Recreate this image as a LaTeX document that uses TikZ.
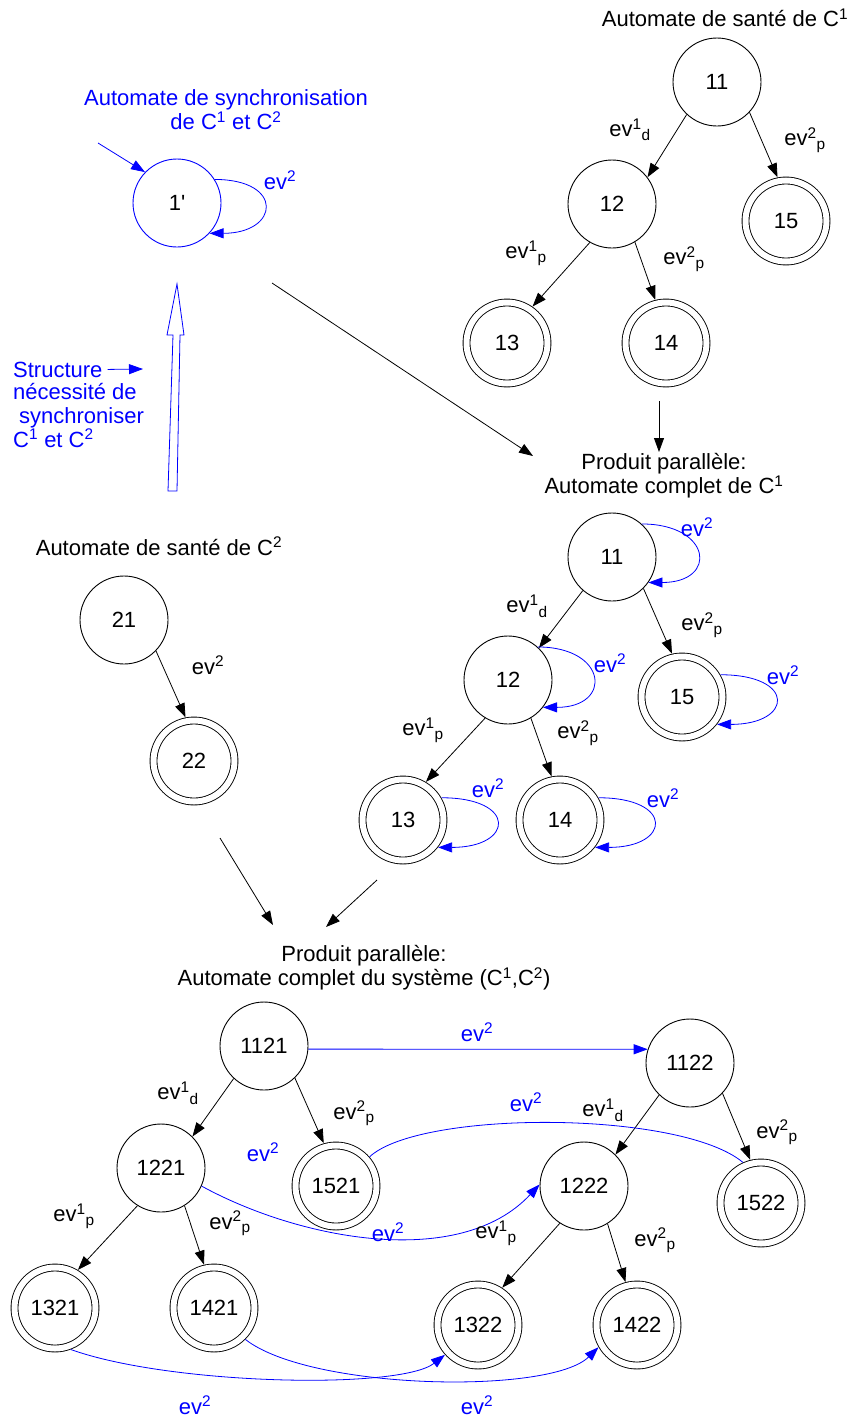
\documentclass[tikz,border=0pt]{standalone}
\usepackage{fontspec}
\setmainfont{Liberation Sans}
\usetikzlibrary{arrows.meta}
\definecolor{synblue}{RGB}{0,0,255}
\tikzset{
  etat/.style={circle,draw,line width=0.9pt,minimum size=88pt,inner sep=0pt},
  etatfin/.style={circle,draw,line width=0.9pt,double,double distance=6pt,minimum size=81pt,inner sep=0pt,outer sep=4pt},
  trans/.style={-{Triangle[length=14pt,width=10pt]},line width=0.8pt},
  transbl/.style={trans,synblue},
  lab/.style={inner sep=0pt},
  labbl/.style={lab,synblue}
}
\newcommand{\evl}[2]{ev\textsuperscript{#1}\textsubscript{#2}}
\newcommand{\evs}{ev\textsuperscript{2}}

\begin{document}
\begin{tikzpicture}[x=1pt,y=-1pt,font=\fontsize{22}{24}\selectfont]
\useasboundingbox (0,0) rectangle (850,1416);

\node[align=center,synblue] (sync) at (226,110) {Automate de synchronisation\\de C\textsuperscript{1} et C\textsuperscript{2}};
\node[etat,draw=synblue] (s1) at (177,203) {1\textquotesingle};
\coordinate (sin) at (98,143);
\draw[transbl] (sin) -- (s1.136);
\draw[transbl] (s1.32) .. controls +(70,0) and +(70,0) .. (s1.-43);
\node[labbl] (ls1) at (280,180) {\evs};
\draw[synblue,fill=white,line width=0.8pt] (168,491) -- (173,335) -- (167,335) -- (177,284)
  -- (184,335) -- (180,335) -- (177,491) -- cycle;
\node[synblue,anchor=base west,inner sep=0pt] (struc) at (13,377) {Structure};
\node[synblue,anchor=north west,align=left,inner sep=0pt] (struc2) at (13,383)
  {nécessité de\\\hspace{6pt}synchroniser\\C\textsuperscript{1} et C\textsuperscript{2}};
\coordinate (strtip) at (143,369);
\draw[transbl] ([xshift=5pt]struc.east) -- (strtip);
\coordinate (la) at (272,283);
\coordinate (lb) at (533,456);
\draw[trans] (la) -- (lb);

\node (titA) at (725,18) {Automate de santé de C\textsuperscript{1}};
\node[etat] (a11) at (717,82) {11};
\node[etat] (a12) at (612,204) {12};
\node[etatfin] (a15) at (786,221) {15};
\node[etatfin] (a13) at (507,343) {13};
\node[etatfin] (a14) at (666,343) {14};
\draw[trans] (a11.227) -- (a12.37);
\draw[trans] (a11.-43) -- (a15.101);
\draw[trans] (a12.-120) -- (a13.55);
\draw[trans] (a12.-59) -- (a14.104);
\node[lab] (la1) at (630,130) {\evl{1}{d}};
\node[lab] (la2) at (805,140) {\evl{2}{p}};
\node[lab] (la3) at (526,253) {\evl{1}{p}};
\node[lab] (la4) at (684,259) {\evl{2}{p}};
\coordinate (pa) at (659,401);
\coordinate (pb) at (659,452);
\draw[trans] (pa) -- (pb);

\node[align=center] (titB) at (664,476) {Produit parallèle:\\Automate complet de C\textsuperscript{1}};
\node[etat] (b11) at (612,557) {11};
\node[etat] (b12) at (508,680) {12};
\node[etatfin] (b15) at (682,697) {15};
\node[etatfin] (b13) at (403,820) {13};
\node[etatfin] (b14) at (560,820) {14};
\draw[trans] (b11.-131) -- (b12.46);
\draw[trans] (b11.-45) -- (b15.103);
\draw[trans] (b12.-121) -- (b13.59);
\draw[trans] (b12.-59) -- (b14.101);
\foreach \n/\a/\b in {b11/48/-35,b12/48/-38}
  \draw[transbl] (\n.\a) .. controls +(70,0) and +(70,0) .. (\n.\b);
\foreach \n in {b13,b14,b15}
  \draw[transbl] (\n.30) .. controls +(76,0) and +(76,0) .. (\n.-38);
\node[lab] (lb1) at (527,606) {\evl{1}{d}};
\node[lab] (lb2) at (702,625) {\evl{2}{p}};
\node[lab] (lb3) at (423,730) {\evl{1}{p}};
\node[lab] (lb4) at (578,733) {\evl{2}{p}};
\node[labbl] (lb5) at (697,527) {\evs};
\node[labbl] (lb6) at (610,663) {\evs};
\node[labbl] (lb7) at (783,675) {\evs};
\node[labbl] (lb8) at (488,788) {\evs};
\node[labbl] (lb9) at (663,798) {\evs};

\node (titC) at (159,546) {Automate de santé de C\textsuperscript{2}};
\node[etat] (c21) at (124,620) {21};
\node[etatfin] (c22) at (194,761) {22};
\draw[trans] (c21.-44) -- (c22.101);
\node[lab] (lc1) at (208,665) {\evs};
\coordinate (qa) at (220,838);
\coordinate (qb) at (273,925);
\coordinate (ra) at (377,880);
\coordinate (rb) at (326,927);
\draw[trans] (qa) -- (qb);
\draw[trans] (ra) -- (rb);

\node[align=center] (titD) at (364,968) {Produit parallèle:\\Automate complet du système (C\textsuperscript{1},C\textsuperscript{2})};
\foreach \n/\x/\y in {1121/264/1046,1122/690/1063,1221/161/1168,1222/584/1186}
  \node[etat] (n\n) at (\x,\y) {\n};
\foreach \n/\x/\y in {1521/336/1186,1522/761/1203,1321/55/1308,1421/214/1308,1322/478/1325,1422/637/1325}
  \node[etatfin] (n\n) at (\x,\y) {\n};
\draw[trans] (n1121.-133) -- (n1221.45);
\draw[trans] (n1121.-46) -- (n1521.106);
\draw[trans] (n1122.-134) -- (n1222.45);
\draw[trans] (n1122.-43) -- (n1522.104);
\draw[trans] (n1221.-122) -- (n1321.59);
\draw[trans] (n1221.-58) -- (n1421.103);
\draw[trans] (n1222.-123) -- (n1322.57);
\draw[trans] (n1222.-58) -- (n1422.105);
\draw[transbl] (n1121.-4) -- (n1122.162);
\draw[synblue,line width=0.8pt] (n1521.41) .. controls (420,1110) and (680,1110) .. (n1522.114);
\draw[transbl] (n1221.-24) .. controls (300,1240) and (460,1270) .. (n1222.178);
\draw[transbl] (n1321.-69) .. controls (170,1385) and (400,1390) .. (n1322.-138);
\draw[transbl] (n1421.-45) .. controls (310,1390) and (550,1395) .. (n1422.-150);
\node[labbl] (ld1) at (477,1032) {\evs};
\node[lab] (ld2) at (178,1093) {\evl{1}{d}};
\node[lab] (ld3) at (354,1113) {\evl{2}{p}};
\node[labbl] (ld4) at (263,1152) {\evs};
\node[labbl] (ld5) at (526,1102) {\evs};
\node[lab] (ld6) at (603,1110) {\evl{1}{d}};
\node[lab] (ld7) at (777,1132) {\evl{2}{p}};
\node[lab] (ld8) at (74,1216) {\evl{1}{p}};
\node[lab] (ld9) at (230,1223) {\evl{2}{p}};
\node[labbl] (ld10) at (388,1232) {\evs};
\node[lab] (ld11) at (496,1233) {\evl{1}{p}};
\node[lab] (ld12) at (655,1240) {\evl{2}{p}};
\node[labbl] (ld13) at (195,1405) {\evs};
\node[labbl] (ld14) at (477,1405) {\evs};
\end{tikzpicture}
\end{document}
